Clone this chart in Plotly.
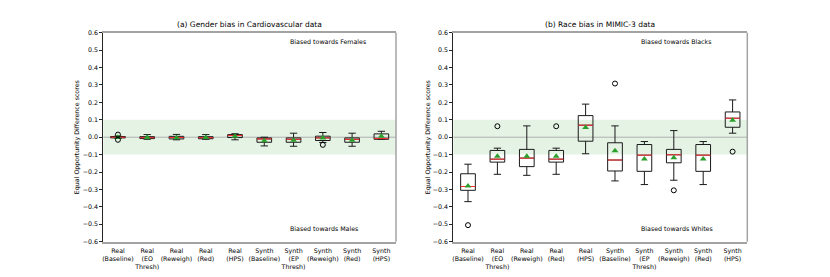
import plotly.graph_objects as go

categories = ["Real<br>(Baseline)", "Real<br>(EO<br>Thresh)", "Real<br>(Reweigh)", "Real<br>(Red)",
              "Real<br>(HPS)", "Synth<br>(Baseline)", "Synth<br>(EP<br>Thresh)", "Synth<br>(Reweigh)",
              "Synth<br>(Red)", "Synth<br>(HPS)"]
positions = list(range(1, 11))
y_ticks = [-0.6, -0.5, -0.4, -0.3, -0.2, -0.1, 0.0, 0.1, 0.2, 0.3, 0.4, 0.5, 0.6]

# (a) Gender bias in Cardiovascular data
a_low = [-0.006, -0.012, -0.015, -0.012, -0.015, -0.050, -0.052, -0.030, -0.052, -0.012]
a_q1 = [-0.004, -0.008, -0.010, -0.009, -0.002, -0.029, -0.029, -0.019, -0.029, -0.012]
a_med = [0.000, -0.003, -0.002, -0.003, 0.010, -0.010, -0.012, -0.004, -0.012, -0.008]
a_q3 = [0.004, 0.003, 0.005, 0.003, 0.015, -0.004, -0.004, 0.006, -0.004, 0.019]
a_high = [0.006, 0.015, 0.016, 0.015, 0.020, 0.000, 0.023, 0.027, 0.023, 0.034]
a_mean = [0.000, -0.002, -0.003, -0.002, 0.005, -0.020, -0.018, -0.005, -0.018, 0.005]
a_out = [[0.015, -0.015], [], [], [], [], [], [], [-0.044], [], []]

# (b) Race bias in MIMIC-3 data
b_low = [-0.370, -0.213, -0.219, -0.213, -0.095, -0.251, -0.272, -0.247, -0.272, 0.023]
b_q1 = [-0.305, -0.143, -0.169, -0.143, -0.023, -0.194, -0.196, -0.147, -0.196, 0.057]
b_med = [-0.283, -0.126, -0.120, -0.126, 0.069, -0.131, -0.103, -0.101, -0.103, 0.109]
b_q3 = [-0.210, -0.076, -0.070, -0.076, 0.124, -0.032, -0.042, -0.070, -0.042, 0.145]
b_high = [-0.155, -0.063, 0.065, -0.063, 0.190, 0.065, -0.025, 0.038, -0.025, 0.214]
b_mean = [-0.280, -0.110, -0.110, -0.110, 0.055, -0.078, -0.125, -0.118, -0.125, 0.097]
b_out = [[-0.505], [0.063], [], [0.063], [], [0.308], [], [-0.305], [], [-0.083]]

W, H = 830, 277
OFF = 8  # page body margin
FONT = "DejaVu Sans"
DARK = "#262626"
LIGHT = "#a3a3a3"

panels = [
    dict(title="(a) Gender bias in Cardiovascular data", top="Biased towards Females", bottom="Biased towards Males",
         low=a_low, q1=a_q1, med=a_med, q3=a_q3, high=a_high, mean=a_mean, out=a_out,
         x0=103.3 - OFF, x1=396.0 - OFF, ylab_x=77 - OFF),
    dict(title="(b) Race bias in MIMIC-3 data", top="Biased towards Blacks", bottom="Biased towards Whites",
         low=b_low, q1=b_q1, med=b_med, q3=b_q3, high=b_high, mean=b_mean, out=b_out,
         x0=453.3 - OFF, x1=747.3 - OFF, ylab_x=428 - OFF),
]
y_top, y_bot = 32.7 - OFF, 241.7 - OFF

fig = go.Figure()
shapes, annotations = [], []
for i, p in enumerate(panels):
    xa = "x" if i == 0 else "x2"
    ya = "y" if i == 0 else "y2"
    fig.add_trace(go.Box(
        x=positions, q1=p["q1"], median=p["med"], q3=p["q3"],
        lowerfence=p["low"], upperfence=p["high"],
        width=0.5, whiskerwidth=0.5, boxpoints=False,
        line=dict(color="#1a1a1a", width=1), fillcolor="rgba(0,0,0,0)",
        xaxis=xa, yaxis=ya, showlegend=False, hoverinfo="skip"))
    mx, my = [], []
    for pos, m in zip(positions, p["med"]):
        mx += [pos - 0.25, pos + 0.25, None]
        my += [m, m, None]
    fig.add_trace(go.Scatter(x=mx, y=my, mode="lines", line=dict(color="#ff3030", width=1),
                             xaxis=xa, yaxis=ya, showlegend=False, hoverinfo="skip"))
    fig.add_trace(go.Scatter(x=positions, y=p["mean"], mode="markers",
                             marker=dict(symbol="triangle-up", size=6, color="#2ca02c"),
                             xaxis=xa, yaxis=ya, showlegend=False, hoverinfo="skip"))
    ox, oy = [], []
    for pos, outs in zip(positions, p["out"]):
        for o in outs:
            ox.append(pos)
            oy.append(o)
    fig.add_trace(go.Scatter(x=ox, y=oy, mode="markers",
                             marker=dict(symbol="circle-open", size=5, color="black", line=dict(width=1)),
                             xaxis=xa, yaxis=ya, showlegend=False, hoverinfo="skip"))

    xref_dom = xa + " domain"
    yref_dom = ya + " domain"
    shapes.append(dict(type="rect", xref=xref_dom, yref=ya, x0=0, x1=1, y0=-0.1, y1=0.1,
                       fillcolor="rgba(44,160,44,0.12)", line=dict(width=0), layer="below"))
    shapes.append(dict(type="line", xref=xref_dom, yref=ya, x0=0, x1=1, y0=0, y1=0,
                       line=dict(color="#b0b0b0", width=1), layer="below"))
    # right spine (light grey)
    shapes.append(dict(type="line", xref=xref_dom, yref=yref_dom, x0=1, x1=1, y0=0, y1=1,
                       line=dict(color=LIGHT, width=1.5), layer="above"))

    cx = (p["x0"] + p["x1"]) / 2 / W
    annotations.append(dict(text=p["title"], x=cx, y=1 - (25 - OFF) / H, xref="paper", yref="paper",
                            showarrow=False, xanchor="center", yanchor="middle",
                            font=dict(family=FONT, size=7.5, color="black")))
    annotations.append(dict(text="Equal Opportunity Difference scores", x=p["ylab_x"] / W,
                            y=1 - (y_top + y_bot) / 2 / H, xref="paper", yref="paper", textangle=-90,
                            showarrow=False, xanchor="center", yanchor="middle",
                            font=dict(family=FONT, size=6.3, color="black")))
    annotations.append(dict(text=p["top"], x=6.8, y=0.549, xref=xa, yref=ya, showarrow=False,
                            xanchor="left", yanchor="middle", font=dict(family=FONT, size=6.3, color="black")))
    annotations.append(dict(text=p["bottom"], x=6.8, y=-0.526, xref=xa, yref=ya, showarrow=False,
                            xanchor="left", yanchor="middle", font=dict(family=FONT, size=6.3, color="black")))

x_common = dict(showline=True, mirror=True, linecolor=LIGHT, linewidth=1.5, ticks="outside",
                ticklen=2, tickwidth=1, tickcolor="rgba(0,0,0,0)", showgrid=False, zeroline=False,
                automargin=False, tickangle=0, range=[0.5, 10.5], tickmode="array",
                tickvals=positions, ticktext=categories,
                tickfont=dict(family=FONT, size=6.3, color="black"))
y_common = dict(showline=True, mirror=False, linecolor=DARK, linewidth=1, ticks="outside",
                ticklen=3, tickwidth=1, tickcolor=DARK, showgrid=False, zeroline=False,
                automargin=False, range=[-0.6, 0.6], tickmode="array", tickvals=y_ticks,
                tickformat=".1f", tickfont=dict(family=FONT, size=6.3, color="black"))
ydom = [1 - y_bot / H, 1 - y_top / H]
fig.update_layout(
    width=W, height=H, margin=dict(l=0, r=0, t=0, b=0),
    paper_bgcolor="white", plot_bgcolor="white",
    shapes=shapes, annotations=annotations,
    xaxis=dict(domain=[panels[0]["x0"] / W, panels[0]["x1"] / W], anchor="y", **x_common),
    yaxis=dict(domain=ydom, anchor="x", **y_common),
    xaxis2=dict(domain=[panels[1]["x0"] / W, panels[1]["x1"] / W], anchor="y2", **x_common),
    yaxis2=dict(domain=ydom, anchor="x2", **y_common),
)
fig.write_html("out.html")
